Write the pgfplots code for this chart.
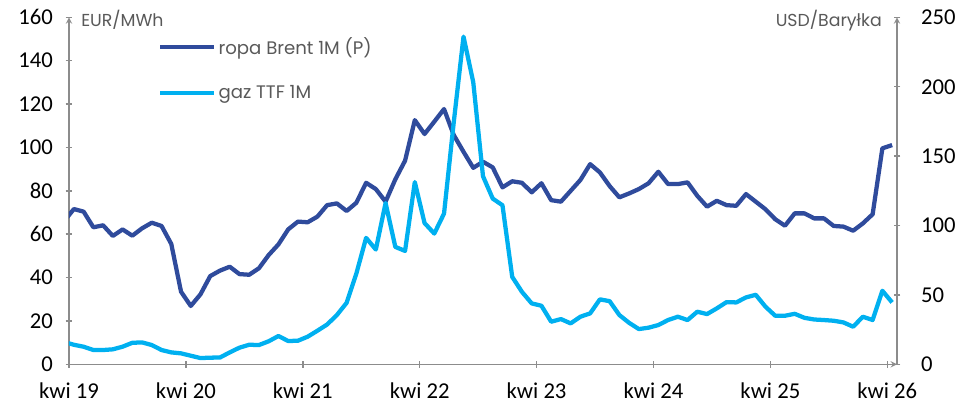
\documentclass[border=0pt]{standalone}
\usepackage{fontspec}
\setmainfont{Carlito}
\newfontfamily\popfont{Poppins}
\usepackage{pgfplots}
\pgfplotsset{compat=1.18}
\definecolor{brent}{HTML}{2F4B9C}
\definecolor{ttf}{HTML}{00B0F0}
\definecolor{axgrey}{HTML}{8C8C8C}
\definecolor{txtgrey}{HTML}{595959}

\pgfplotstableread{
x y
-0.5 66.0
0.5 71.6
1.5 70.4
2.5 63.2
3.5 64.1
4.5 59.2
5.5 62.2
6.5 59.3
7.5 62.7
8.5 65.3
9.5 63.8
10.5 55.5
11.5 33.5
12.5 26.9
13.5 32.3
14.5 40.7
15.5 43.2
16.5 45.0
17.5 41.6
18.5 41.3
19.5 44.3
20.5 50.4
21.5 55.3
22.5 62.2
23.5 65.8
24.5 65.5
25.5 68.1
26.5 73.4
27.5 74.2
28.5 70.7
29.5 74.5
30.5 83.7
31.5 80.8
32.5 75.0
33.5 85.3
34.5 93.9
35.5 112.6
36.5 106.2
37.5 111.9
38.5 117.7
39.5 105.7
40.5 98.0
41.5 90.6
42.5 93.4
43.5 90.8
44.5 81.6
45.5 84.4
46.5 83.7
47.5 79.3
48.5 83.5
49.5 75.7
50.5 75.0
51.5 80.0
52.5 85.0
53.5 92.3
54.5 88.5
55.5 82.2
56.5 77.0
57.5 78.8
58.5 80.8
59.5 83.5
60.5 88.8
61.5 83.1
62.5 83.1
63.5 83.9
64.5 77.7
65.5 72.7
66.5 75.4
67.5 73.4
68.5 73.1
69.5 78.5
70.5 75.0
71.5 71.5
72.5 66.9
73.5 63.9
74.5 69.6
75.5 69.6
76.5 67.3
77.5 67.3
78.5 63.8
79.5 63.5
80.5 61.6
81.5 65.0
82.5 69.2
83.5 99.6
84.5 101.1
}\brentdata

\pgfplotstableread{
x y
-0.5 16.1
0.5 14.1
1.5 12.7
2.5 10.3
3.5 10.3
4.5 10.8
5.5 12.7
6.5 15.5
7.5 15.8
8.5 13.9
9.5 10.3
10.5 8.6
11.5 7.9
12.5 6.2
13.5 4.5
14.5 4.8
15.5 4.9
16.5 8.6
17.5 12.0
18.5 14.1
19.5 13.9
20.5 16.6
21.5 20.4
22.5 16.8
23.5 17.0
24.5 19.9
25.5 24.2
26.5 28.7
27.5 35.5
28.5 44.3
29.5 65.4
30.5 91.1
31.5 82.7
32.5 116.2
33.5 84.6
34.5 81.7
35.5 131.3
36.5 101.8
37.5 94.2
38.5 108.6
39.5 174.5
40.5 236.1
41.5 203.3
42.5 135.5
43.5 119.4
44.5 114.6
45.5 63.0
46.5 52.2
47.5 43.9
48.5 42.2
49.5 30.7
50.5 32.6
51.5 29.5
52.5 34.3
53.5 36.7
54.5 46.8
55.5 45.5
56.5 35.5
57.5 29.9
58.5 25.4
59.5 26.4
60.5 28.3
61.5 31.9
62.5 34.3
63.5 31.9
64.5 37.9
65.5 36.2
66.5 40.3
67.5 44.8
68.5 44.6
69.5 48.2
70.5 50.1
71.5 41.5
72.5 35.0
73.5 35.0
74.5 36.4
75.5 33.5
76.5 32.3
77.5 31.9
78.5 31.4
79.5 30.2
80.5 27.1
81.5 34.3
82.5 31.9
83.5 53.0
84.5 44.6
}\ttfdata

\pgfplotsset{
  common/.style={
    at={(0,0)}, anchor=south west, scale only axis,
    width=621pt, height=260.25pt,
    xmin=0, xmax=85,
    axis line style={-, axgrey, line width=1.1pt},
    tick style={axgrey, line width=1.1pt},
    tick align=outside,
    major tick length=5pt,
    tick label style={font=\fontsize{17}{20}\selectfont, black},
    /pgf/number format/assume math mode=true,
    clip=true,
  },
}

\begin{document}
\begin{tikzpicture}
\useasboundingbox (-51.75pt,-33.5pt) rectangle (669pt,273.25pt);
\begin{axis}[common,
  ymin=0, ymax=160,
  axis x line=bottom, axis y line=left,
  ytick={0,20,...,160},
  yticklabel style={xshift=-6pt},
  xtick={0,12,...,84},
  xticklabel style={yshift=-8pt},
  xticklabels={kwi 19,kwi 20,kwi 21,kwi 22,kwi 23,kwi 24,kwi 25,kwi 26},
  legend cell align=left,
  legend style={at={(rel axis cs:0.1075,0.95)}, anchor=north west,
    draw=none, fill=none, inner sep=0pt,
    font=\popfont\fontsize{13.6}{15}\selectfont, text=txtgrey,
    row sep=17.5pt,
    /tikz/every even column/.append style={column sep=2pt}},
  legend image code/.code={\draw[#1] (0pt,0pt) -- (40pt,0pt);},
]
\addplot[brent, line width=3.2pt, line join=round] table[x=x,y=y] {\brentdata};
\addlegendentry{ropa Brent 1M (P)}
\addlegendimage{ttf, line width=3.2pt}
\addlegendentry{gaz TTF 1M}
\end{axis}
\begin{axis}[common,
  ymin=0, ymax=250,
  axis x line=none, axis y line=right,
  ytick={0,50,...,250},
  yticklabel style={xshift=12pt},
]
\addplot[ttf, line width=3.2pt, line join=round] table[x=x,y=y] {\ttfdata};
\end{axis}
\node[anchor=west, font=\popfont\fontsize{13}{15}\selectfont, text=txtgrey, inner sep=0pt] at (9pt,258.2pt) {EUR/MWh};
\node[anchor=east, font=\popfont\fontsize{13}{15}\selectfont, text=txtgrey, inner sep=0pt] at (609.75pt,257.5pt) {USD/Baryłka};
\end{tikzpicture}
\end{document}
